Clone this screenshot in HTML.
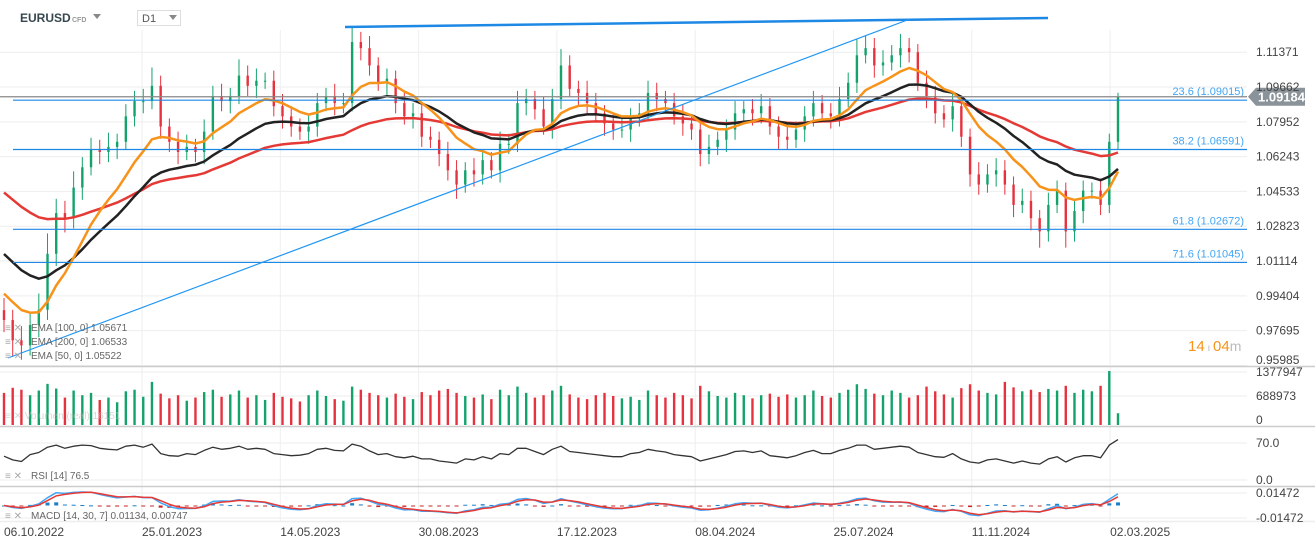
<!DOCTYPE html>
<html><head><meta charset="utf-8">
<style>
html,body{margin:0;padding:0;background:#fff;}
body{width:1315px;height:548px;overflow:hidden;font-family:"Liberation Sans",sans-serif;}
svg text{font-family:"Liberation Sans",sans-serif;}
</style></head>
<body>
<svg id="chart" width="1315" height="548" viewBox="0 0 1315 548" xmlns="http://www.w3.org/2000/svg">
  <g id="grid"></g>
  <g id="candles"></g>
  <g id="emas"></g>
  <g id="drawings"></g>
  <g id="vol"></g>
  <g id="rsi"></g>
  <g id="macd"></g>
  <g id="axes"></g>

  <text x="20" y="22" font-size="12" font-weight="bold" fill="#37474f">EURUSD</text>
  <text x="72" y="22" font-size="7" font-weight="bold" fill="#999">CFD</text>
  <path d="M93 14 L101 14 L97 19 Z" fill="#888"/>
  <rect x="137.5" y="10.5" width="43" height="15" fill="#fff" stroke="#ddd"/>
  <text x="142" y="22" font-size="11" fill="#555">D1</text>
  <path d="M169 15 L177 15 L173 20 Z" fill="#888"/>

  <g font-size="10" fill="#666">
    <text x="5" y="331" fill="#aaa">≡ ✕</text>
    <text x="31" y="331">EMA [100, 0] 1.05671</text>
    <text x="5" y="345" fill="#aaa">≡ ✕</text>
    <text x="31" y="345">EMA [200, 0] 1.06533</text>
    <text x="5" y="359" fill="#aaa">≡ ✕</text>
    <text x="31" y="359">EMA [50, 0] 1.05522</text>
  </g>
  <text x="5" y="419" font-size="10" fill="#bbb" opacity="0.6">≡ ✕ Volumen (real) 16151</text>
  <text x="5" y="479" font-size="10" fill="#aaa">≡ ✕</text>
  <text x="31" y="479" font-size="10" fill="#666">RSI [14] 76.5</text>
  <text x="5" y="519" font-size="10" fill="#aaa">≡ ✕</text>
  <text x="31" y="519" font-size="10" fill="#666">MACD [14, 30, 7] 0.01134, 0.00747</text>

  <g>
    <text x="1188" y="351" font-size="15" fill="#f7931a">14<tspan font-size="10" fill="#bbb"> ı </tspan>04<tspan fill="#bbb" font-size="14">m</tspan></text>
  </g>
</svg>
<script>
const categories = ["06.10.2022","25.01.2023","14.05.2023","30.08.2023","17.12.2023","08.04.2024","25.07.2024","11.11.2024","02.03.2025"];
const priceTicks = [1.11371,1.09662,1.07952,1.06243,1.04533,1.02823,1.01114,0.99404,0.97695,0.95985];
const closes = [0.9822,0.9722,0.9697,0.9797,0.9872,1.0147,1.0347,1.0322,1.0472,1.0572,
1.0657,1.0647,1.0672,1.0697,1.0822,1.0897,1.0897,1.0972,1.0772,1.0697,
1.0647,1.0672,1.0647,1.0747,1.0922,1.0897,1.0922,1.1022,1.0972,1.0997,
1.0997,1.0872,1.0822,1.0772,1.0747,1.0772,1.0887,1.0922,1.0887,1.0887,
1.1187,1.1157,1.1072,1.0987,1.1007,1.0887,1.0822,1.0837,1.0722,1.0707,
1.0637,1.0557,1.0487,1.0557,1.0537,1.0607,1.0557,1.0687,1.0687,1.0887,
1.0907,1.0857,1.0772,1.0907,1.1072,1.0957,1.0937,1.0887,1.0837,1.0787,
1.0757,1.0757,1.0822,1.0837,1.0937,1.0907,1.0887,1.0822,1.0787,1.0757,
1.0637,1.0672,1.0707,1.0757,1.0837,1.0857,1.0837,1.0872,1.0772,1.0722,
1.0707,1.0757,1.0822,1.0887,1.0837,1.0822,1.0907,1.0987,1.1122,1.1157,
1.1072,1.1087,1.1122,1.1157,1.1137,1.0987,1.0922,1.0837,1.0807,1.0872,
1.0722,1.0537,1.0487,1.0537,1.0557,1.0487,1.0387,1.0407,1.0322,1.0257,
1.0387,1.0457,1.0257,1.0357,1.0457,1.0457,1.0387,1.0697,1.0918];
const firstOpen = 0.9870;
const wickUp = [0.006,0.005,0.007,0.006,0.008,0.010,0.007,0.006,0.008,0.005,0.006,0.005,0.007,0.004,0.006,0.005,0.006,0.009,0.005,0.004,0.005,0.006,0.004,0.006,0.005,0.006,0.004,0.008,0.005,0.006,0.004,0.005,0.006,0.005,0.004,0.006,0.005,0.004,0.006,0.005,0.007,0.005,0.006,0.004,0.005,0.004,0.006,0.005,0.004,0.005,0.004,0.006,0.005,0.004,0.006,0.005,0.004,0.006,0.005,0.006,0.005,0.004,0.006,0.005,0.008,0.005,0.004,0.006,0.005,0.004,0.005,0.006,0.004,0.005,0.006,0.005,0.004,0.005,0.006,0.004,0.005,0.006,0.004,0.005,0.006,0.004,0.005,0.006,0.004,0.005,0.006,0.004,0.005,0.006,0.004,0.005,0.006,0.005,0.008,0.006,0.005,0.006,0.005,0.007,0.005,0.004,0.006,0.005,0.004,0.006,0.005,0.004,0.006,0.005,0.006,0.005,0.004,0.006,0.005,0.004,0.006,0.005,0.004,0.006,0.005,0.004,0.006,0.004,0.002];
const wickDown = [0.006,0.008,0.007,0.005,0.006,0.005,0.006,0.007,0.005,0.006,0.004,0.006,0.005,0.006,0.004,0.005,0.006,0.004,0.006,0.005,0.006,0.004,0.005,0.006,0.004,0.005,0.006,0.004,0.005,0.006,0.004,0.005,0.006,0.005,0.004,0.006,0.005,0.004,0.006,0.005,0.004,0.006,0.005,0.004,0.006,0.005,0.004,0.006,0.005,0.004,0.006,0.005,0.007,0.004,0.006,0.005,0.004,0.006,0.005,0.004,0.006,0.005,0.004,0.006,0.005,0.004,0.006,0.005,0.004,0.006,0.005,0.004,0.006,0.005,0.004,0.006,0.005,0.004,0.006,0.005,0.006,0.005,0.004,0.006,0.005,0.004,0.006,0.005,0.004,0.006,0.005,0.004,0.006,0.005,0.004,0.006,0.005,0.004,0.005,0.004,0.006,0.005,0.004,0.006,0.005,0.004,0.006,0.005,0.004,0.006,0.005,0.006,0.005,0.004,0.006,0.005,0.006,0.004,0.006,0.008,0.005,0.004,0.008,0.005,0.006,0.004,0.005,0.004,0.004];
const volumes = [820,950,900,760,880,1050,930,700,880,760,820,640,700,580,860,900,720,1100,800,680,760,620,700,840,900,720,780,880,700,760,640,820,720,680,600,760,880,740,660,620,980,900,820,760,700,800,720,660,840,760,880,920,820,740,700,780,660,900,760,980,820,700,760,880,1000,780,700,660,760,820,740,680,720,640,880,760,700,820,760,680,1000,860,740,700,820,760,680,760,800,720,780,700,760,880,740,700,820,900,1040,920,800,760,880,820,700,760,980,860,780,700,940,1040,880,820,780,1100,960,860,900,840,920,880,1000,820,900,860,1000,1377,300];
const rsiValues = [45,38,35,48,52,62,66,60,64,66,65,60,58,57,64,66,62,68,50,46,45,50,48,56,62,58,60,64,58,60,58,50,48,46,47,50,58,60,56,55,68,64,55,48,50,44,42,45,40,40,36,34,32,40,38,44,40,50,48,60,60,54,48,58,64,54,52,50,48,46,44,44,50,52,58,55,53,48,46,44,36,40,44,48,54,55,52,55,46,44,42,46,52,56,50,50,56,60,66,66,58,60,62,64,62,52,48,44,43,50,40,34,32,38,40,36,32,36,32,30,40,44,34,42,46,46,42,66,76.5];
const fibLevels = [1.09015,1.06591,1.02672,1.01045];
const fibNames = ["23.6","38.2","61.8","71.6"];
const lastPrice = 1.09184;
const volTicks = [1377947,688973,0];
const rsiTicks = [70.0,0.0];
const macdTicks = [0.01472,-0.01472];

const NS="http://www.w3.org/2000/svg";
function mk(parent,tag,attrs){const e=document.createElementNS(NS,tag);for(const k in attrs)e.setAttribute(k,attrs[k]);parent.appendChild(e);return e;}
const N=closes.length;
const xOf=i=>4+i*(1114/(N-1));
const yP=p=>87+(1.09662-p)*2036;
const yV=v=>425-v/1377947*54;
const yR=r=>480-r*0.5286;
const yM=m=>505.5-m*850;
const PR=1247;
const G=document.getElementById('grid');
priceTicks.forEach(t=>{const l=mk(G,'line',{x1:0,x2:PR,y1:yP(t),y2:yP(t),stroke:'#eee','stroke-width':1});

});
[396,372].forEach(y=>{const l=mk(G,'line',{x1:0,x2:PR,y1:y,y2:y,stroke:'#eee'});

});
[yR(70),yR(0)].forEach(y=>{const l=mk(G,'line',{x1:0,x2:PR,y1:y,y2:y,stroke:'#eee'});

});
[yM(0.01472),yM(-0.01472)].forEach(y=>{const l=mk(G,'line',{x1:0,x2:PR,y1:y,y2:y,stroke:'#eee'});

});
const A=document.getElementById('axes');
categories.forEach((c,k)=>{const x=k===0?4:142+(k-1)*138.3;
 if(k>0){const l=mk(G,'line',{x1:x,x2:x,y1:30,y2:522,stroke:'#eee'});
 
 }
 const t=mk(A,'text',{x:x,y:536,'font-size':12,fill:'#444'});t.textContent=c;
 
 });
[366.5,426.5,486.5,521.5].forEach(y=>{const l=mk(A,'line',{x1:0,x2:1315,y1:y,y2:y,stroke:y>520?'#eee':'#ccc','stroke-width':1.5});

});
priceTicks.forEach((t,k)=>{const tx=mk(A,'text',{x:1256,y:(k===priceTicks.length-1?364:yP(t)+4),'font-size':12,fill:'#444'});tx.textContent=t.toFixed(5);

});
volTicks.forEach((t,k)=>{const tx=mk(A,'text',{x:1256,y:[376,400,424][k],'font-size':12,fill:'#444'});tx.textContent=String(t);

});
rsiTicks.forEach(t=>{const tx=mk(A,'text',{x:1256,y:yR(t)+4,'font-size':12,fill:'#444'});tx.textContent=t.toFixed(1);

});
macdTicks.forEach(t=>{const tx=mk(A,'text',{x:1256,y:yM(t)+4,'font-size':12,fill:'#444'});tx.textContent=t.toFixed(5);

});

const C=document.getElementById('candles');
const GREEN='#12a26a',RED='#e5323e';
const opens=closes.map((c,i)=>i===0?firstOpen:closes[i-1]);
closes.forEach((c,i)=>{const o=opens[i];const up=c>=o;const col=up?GREEN:RED;const x=xOf(i);
 const hi=Math.max(o,c)+wickUp[i],lo=Math.min(o,c)-wickDown[i];
 const g=mk(C,'g',{});
 
 
 mk(g,'line',{x1:x,x2:x,y1:yP(hi),y2:yP(lo),stroke:col,'stroke-width':1});
 const yt=yP(Math.max(o,c)),yb=yP(Math.min(o,c));
 mk(g,'rect',{x:x-1.2,y:yt,width:2.4,height:Math.max(1,yb-yt),fill:col});
});
function ema(arr,alpha,seed){const out=[];let e=seed;arr.forEach(v=>{e=e+alpha*(v-e);out.push(e);});return out;}
const E=document.getElementById('emas');
function drawLine(g,vals,yf,col,w,name){const d=vals.map((v,i)=>(i?'L':'M')+xOf(i).toFixed(1)+' '+yf(v).toFixed(1)).join(' ');
 const p=mk(g,'path',{d:d,fill:'none',stroke:col,'stroke-width':w,'stroke-linejoin':'round'});
 
 return p;}
drawLine(E,ema(closes,2/41,1.048),yP,'#e53935',2.5,'ema-200-line');
drawLine(E,ema(closes,2/21,1.018),yP,'#222',2.5,'ema-100-line');
drawLine(E,ema(closes,2/11,0.998),yP,'#f7931a',2.5,'ema-50-line');

const D=document.getElementById('drawings');
fibLevels.forEach((f,k)=>{const y=yP(f);
 const l=mk(D,'line',{x1:13,x2:PR,y1:y,y2:y,stroke:'#1e88e5','stroke-width':1.2});
 
 
 const t=mk(D,'text',{x:1244,y:y-5,'font-size':11,fill:'#42a5f5','text-anchor':'end'});t.textContent=fibNames[k]+' ('+f.toFixed(5)+')';
 
 });
const pl=mk(D,'line',{x1:0,x2:PR,y1:yP(lastPrice),y2:yP(lastPrice),stroke:'#888','stroke-width':1.2});


const tl1=mk(D,'line',{x1:345,y1:27,x2:1048,y2:18,stroke:'#1e88e5','stroke-width':2.5});


const tl2=mk(D,'line',{x1:8,y1:358,x2:910,y2:19,stroke:'#2196f3','stroke-width':1.2});


const yl=yP(lastPrice);
const badge=mk(D,'path',{d:`M1248 ${yl} L1256 ${yl-9} L1305 ${yl-9} L1305 ${yl+9} L1256 ${yl+9} Z`,fill:'#8a9399'});


const bt=mk(D,'text',{x:1258,y:yl+5,'font-size':13,'font-weight':'bold',fill:'#fff'});bt.textContent=lastPrice.toFixed(5);



const V=document.getElementById('vol');
volumes.forEach((v,i)=>{const up=closes[i]>=opens[i];const y=yV(v*1000);
 const r=mk(V,'rect',{x:xOf(i)-1.2,y:y,width:2.4,height:425-y,fill:up?GREEN:RED});
 
 });
drawLine(document.getElementById('rsi'),rsiValues,yR,'#333',1.3,'rsi-line');
const fast=ema(closes,2/3.8,closes[0]),slow=ema(closes,2/7,closes[0]);
const macdLine=fast.map((f,i)=>f-slow[i]);
const sig=ema(macdLine,0.6,0);
const M=document.getElementById('macd');
macdLine.forEach((m,i)=>{const h=m-sig[i];const y0=yM(0),y1=yM(h);
 const r=mk(M,'rect',{x:xOf(i)-2,y:Math.min(y0,y1),width:4,height:Math.max(1,Math.abs(y1-y0)),fill:h>=0?'#1e7fc8':'#c62828'});
 
 });
drawLine(M,macdLine,yM,'#42a5f5',1.5,'macd-line');
drawLine(M,sig,yM,'#e53935',1.5,'macd-signal-line');
</script>
</body></html>
